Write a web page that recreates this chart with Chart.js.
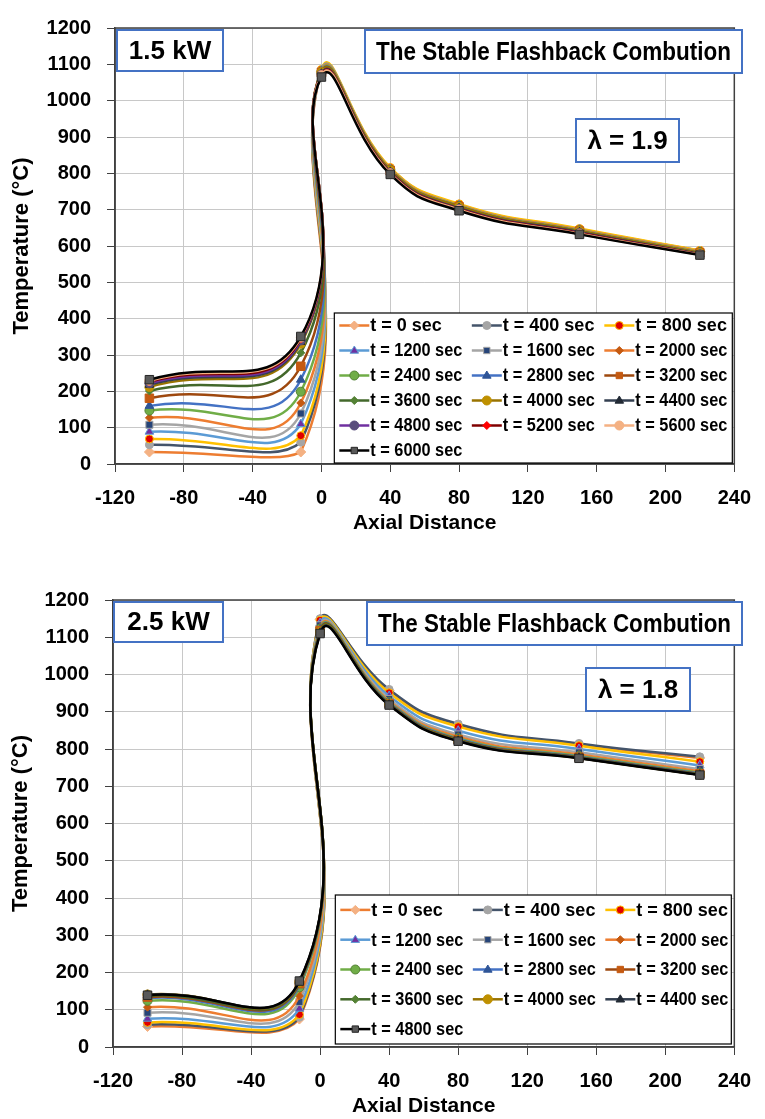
<!DOCTYPE html>
<html lang="en">
<head>
<meta charset="UTF-8">
<title>Stable Flashback Combustion - Axial Temperature</title>
<style>
    body {
        margin: 0;
        background: #fff;
    }
    .chart-box {
        position: relative;
        width: 765px;
    }
    #topBox { height: 560px; }
    #bottomBox { height: 559px; }
</style>
<script src="https://cdn.jsdelivr.net/npm/chart.js"></script>
</head>
<body>
<div class="chart-box" id="topBox"><canvas id="chartTop"></canvas></div>
<div class="chart-box" id="bottomBox"><canvas id="chartBottom"></canvas></div>

<script>
// axial positions of the measuring points
const axialPos = [-100, -12, 0, 40, 80, 150, 220];

const timesTop = ['t = 0 sec', 't = 400 sec', 't = 800 sec', 't = 1200 sec', 't = 1600 sec',
    't = 2000 sec', 't = 2400 sec', 't = 2800 sec', 't = 3200 sec', 't = 3600 sec',
    't = 4000 sec', 't = 4400 sec', 't = 4800 sec', 't = 5200 sec', 't = 5600 sec', 't = 6000 sec'];
const timesBottom = timesTop.slice(0, 13);

// 1.5 kW, lambda = 1.9 : one row per time step, values at axialPos (°C)
const temp15kW = [
    [33, 33, 1080, 812, 712, 645, 585],
    [53, 60, 1082, 814, 714, 646, 587],
    [69, 78, 1086, 816, 716, 648, 588],
    [89, 110, 1083, 812, 712, 645, 585],
    [108, 139, 1080, 810, 710, 643, 583],
    [127, 168, 1082, 812, 712, 645, 585],
    [147, 199, 1080, 810, 710, 643, 583],
    [160, 232, 1078, 808, 708, 641, 581],
    [181, 269, 1078, 808, 708, 641, 581],
    [201, 306, 1076, 806, 706, 639, 579],
    [212, 331, 1078, 808, 708, 641, 581],
    [218, 336, 1074, 804, 704, 638, 578],
    [222, 340, 1072, 802, 702, 636, 577],
    [226, 344, 1072, 802, 702, 636, 577],
    [229, 348, 1070, 800, 700, 634, 576],
    [232, 351, 1065, 797, 697, 632, 575]
];

// 2.5 kW, lambda = 1.8
const temp25kW = [
    [55, 75, 1148, 957, 864, 813, 776],
    [60, 80, 1150, 960, 867, 815, 779],
    [66, 87, 1145, 951, 860, 809, 766],
    [76, 103, 1138, 942, 849, 800, 756],
    [92, 121, 1132, 934, 839, 791, 746],
    [107, 137, 1127, 929, 833, 785, 740],
    [124, 160, 1123, 926, 829, 781, 736],
    [131, 166, 1120, 924, 827, 779, 734],
    [134, 170, 1118, 922, 825, 778, 733],
    [137, 172, 1116, 921, 824, 777, 732],
    [141, 174, 1114, 920, 823, 776, 731],
    [140, 176, 1112, 919, 822, 776, 731],
    [139, 177, 1110, 918, 821, 775, 730]
];

const xTicks = { min: -120, max: 240, step: 40 };
const yTicks = { min: 0, max: 1200, step: 100 };

// excel-like series styles (line colour, marker shape, marker fill / edge)
const seriesStyle = [
    { line: '#ED7D31', shape: 'rectRot', r: 5, fill: '#F4B183', edge: '#F4B183' },
    { line: '#44546A', shape: 'circle', r: 4, fill: '#A5A5A5', edge: '#A5A5A5' },
    { line: '#FFC000', shape: 'circle', r: 4, fill: '#E00000', edge: '#FFC000' },
    { line: '#5B9BD5', shape: 'triangle', r: 5, fill: '#7030A0', edge: '#5B9BD5' },
    { line: '#A5A5A5', shape: 'rect', r: 5, fill: '#264478', edge: '#A5A5A5' },
    { line: '#ED7D31', shape: 'rectRot', r: 4, fill: '#C55A11', edge: '#C55A11' },
    { line: '#70AD47', shape: 'circle', r: 4.5, fill: '#70AD47', edge: '#548235' },
    { line: '#4472C4', shape: 'triangle', r: 5, fill: '#2F5597', edge: '#2F5597' },
    { line: '#9E480E', shape: 'rect', r: 6, fill: '#C55A11', edge: '#C55A11' },
    { line: '#43682B', shape: 'rectRot', r: 4, fill: '#548235', edge: '#548235' },
    { line: '#997300', shape: 'circle', r: 4.5, fill: '#BF9000', edge: '#BF9000' },
    { line: '#333F50', shape: 'triangle', r: 5, fill: '#222A35', edge: '#222A35' },
    { line: '#7030A0', shape: 'circle', r: 4.5, fill: '#5A4E7C', edge: '#5A4E7C' },
    { line: '#7F0000', shape: 'rectRot', r: 4, fill: '#FF0000', edge: '#FF0000' },
    { line: '#F4B183', shape: 'circle', r: 4.5, fill: '#F4B183', edge: '#F4B183' },
    { line: '#000000', shape: 'rect', r: 6, fill: '#595959', edge: '#262626' }
];

const FONT = "'Liberation Sans', Arial, sans-serif";

function makeDatasets(labels, rows, styles) {
    return rows.map(function (vals, i) {
        const s = styles[i];
        return {
            label: labels[i],
            data: axialPos.map(function (x, j) { return { x: x, y: vals[j] }; }),
            borderColor: s.line,
            backgroundColor: s.line,
            borderWidth: 2.5,
            pointStyle: s.shape,
            pointRadius: s.r,
            pointHoverRadius: s.r,
            pointBackgroundColor: s.fill,
            pointBorderColor: s.edge,
            pointBorderWidth: 1,
            tension: 0.5,
            order: rows.length - i   // later series on top, like excel
        };
    });
}

function drawMarker(ctx, shape, x, y, r, fill, edge) {
    ctx.beginPath();
    if (shape === 'circle') {
        ctx.arc(x, y, r, 0, Math.PI * 2);
    } else if (shape === 'rect') {
        const s = r * Math.SQRT1_2;
        ctx.rect(x - s, y - s, 2 * s, 2 * s);
    } else if (shape === 'rectRot') {
        ctx.moveTo(x, y - r);
        ctx.lineTo(x + r, y);
        ctx.lineTo(x, y + r);
        ctx.lineTo(x - r, y);
        ctx.closePath();
    } else {
        ctx.moveTo(x, y - r);
        ctx.lineTo(x + r * 0.95, y + r * 0.6);
        ctx.lineTo(x - r * 0.95, y + r * 0.6);
        ctx.closePath();
    }
    ctx.fillStyle = fill;
    ctx.fill();
    ctx.lineWidth = 1;
    ctx.strokeStyle = edge;
    ctx.stroke();
}

// plot border, boxed legend in the corner and the text boxes
const panelDecor = {
    id: 'panelDecor',
    afterDatasetsDraw(chart, args, opts) {
        const ctx = chart.ctx;
        const a = chart.chartArea;
        ctx.save();

        ctx.strokeStyle = '#404040';
        ctx.lineWidth = 1.5;
        ctx.strokeRect(a.left, a.top, a.right - a.left, a.bottom - a.top);

        // legend
        const lg = opts.legend;
        const bx = a.right - lg.dr - lg.w;
        const by = a.bottom - lg.db - lg.h;
        ctx.fillStyle = '#fff';
        ctx.fillRect(bx, by, lg.w, lg.h);
        ctx.strokeStyle = '#000';
        ctx.lineWidth = 1.2;
        ctx.strokeRect(bx, by, lg.w, lg.h);
        const sets = chart.data.datasets;
        const rows = Math.ceil(sets.length / 3);
        const rowH = lg.h / rows;
        ctx.font = 'bold 18px ' + FONT;
        ctx.textBaseline = 'middle';
        ctx.textAlign = 'left';
        sets.forEach(function (ds, i) {
            const col = i % 3;
            const row = Math.floor(i / 3);
            const x0 = bx + 5 + col * 132.5;
            const y0 = by + rowH * (row + 0.5);
            ctx.strokeStyle = ds.borderColor;
            ctx.lineWidth = 2.5;
            ctx.beginPath();
            ctx.moveTo(x0, y0);
            ctx.lineTo(x0 + 30, y0);
            ctx.stroke();
            drawMarker(ctx, ds.pointStyle, x0 + 15, y0, Math.min(ds.pointRadius, 4.5),
                ds.pointBackgroundColor, ds.pointBorderColor);
            ctx.fillStyle = '#000';
            ctx.fillText(ds.label, x0 + 31, y0 + 1, 92);
        });

        // text boxes
        opts.notes.forEach(function (n) {
            const x = a.left + n.dx;
            const y = a.top + n.dy;
            ctx.fillStyle = '#fff';
            ctx.fillRect(x, y, n.w, n.h);
            ctx.strokeStyle = '#4472C4';
            ctx.lineWidth = 2;
            ctx.strokeRect(x, y, n.w, n.h);
            ctx.fillStyle = '#000';
            ctx.font = n.font;
            ctx.textAlign = 'center';
            ctx.textBaseline = 'middle';
            ctx.fillText(n.text, x + n.w / 2, y + n.h / 2 + 1, n.w - 22);
        });
        ctx.restore();
    }
};

function buildChart(canvasId, labels, rows, styles, cfg) {
    const ctx = document.getElementById(canvasId).getContext('2d');
    return new Chart(ctx, {
        type: 'line',
        data: { datasets: makeDatasets(labels, rows, styles) },
        plugins: [panelDecor],
        options: {
            responsive: true,
            maintainAspectRatio: false,
            animation: false,
            layout: { padding: cfg.padding },
            plugins: {
                legend: { display: false },
                tooltip: { enabled: false },
                panelDecor: { legend: cfg.legend, notes: cfg.notes }
            },
            scales: {
                x: {
                    type: 'linear',
                    position: 'bottom',
                    min: xTicks.min,
                    max: xTicks.max,
                    afterFit: function (scale) { scale.height = 72; },
                    ticks: {
                        stepSize: xTicks.step,
                        color: '#000',
                        padding: 14,
                        maxRotation: 0,
                        callback: function (v) { return String(v); },
                        font: { family: FONT, size: 20, weight: 'bold' }
                    },
                    grid: { color: '#C8C8C8', lineWidth: 1, tickColor: '#404040', tickLength: 8 },
                    border: { color: '#404040', width: 1.5 },
                    title: {
                        display: true,
                        text: 'Axial Distance',
                        color: '#000',
                        padding: 0,
                        font: { family: FONT, size: 21, weight: 'bold' }
                    }
                },
                y: {
                    min: yTicks.min,
                    max: yTicks.max,
                    afterFit: function (scale) { scale.width = cfg.yWidth; },
                    ticks: {
                        stepSize: yTicks.step,
                        color: '#000',
                        padding: 16,
                        callback: function (v) { return String(v); },
                        font: { family: FONT, size: 20, weight: 'bold' }
                    },
                    grid: { color: '#C8C8C8', lineWidth: 1, tickColor: '#404040', tickLength: 8 },
                    border: { color: '#404040', width: 1.5 },
                    title: {
                        display: true,
                        text: 'Temperature (°C)',
                        color: '#000',
                        padding: 0,
                        font: { family: FONT, size: 22, weight: 'bold' }
                    }
                }
            }
        }
    });
}

const boxFont = 'bold 26px ' + FONT;

buildChart('chartTop', timesTop, temp15kW, seriesStyle, {
    padding: { left: 9, top: 19, right: 21, bottom: 24 },
    yWidth: 106,
    legend: { w: 398, h: 150, dr: 2, db: 1 },
    notes: [
        { text: '1.5 kW', dx: 2, dy: 2, w: 106, h: 41, font: boxFont },
        { text: 'The Stable Flashback Combution', dx: 250, dy: 2, w: 377, h: 43, font: boxFont },
        { text: 'λ = 1.9', dx: 461, dy: 91, w: 103, h: 43, font: boxFont }
    ]
});

buildChart('chartBottom', timesBottom, temp25kW,
    seriesStyle.slice(0, 12).concat([seriesStyle[15]]), {
    padding: { left: 8, top: 40, right: 22, bottom: 0 },
    yWidth: 105,
    legend: { w: 396, h: 149, dr: 3, db: 3 },
    notes: [
        { text: '2.5 kW', dx: 1, dy: 2, w: 109, h: 40, font: boxFont },
        { text: 'The Stable Flashback Combution', dx: 254, dy: 2, w: 375, h: 43, font: boxFont },
        { text: 'λ = 1.8', dx: 473, dy: 68, w: 104, h: 43, font: boxFont }
    ]
});
</script>
</body>
</html>
